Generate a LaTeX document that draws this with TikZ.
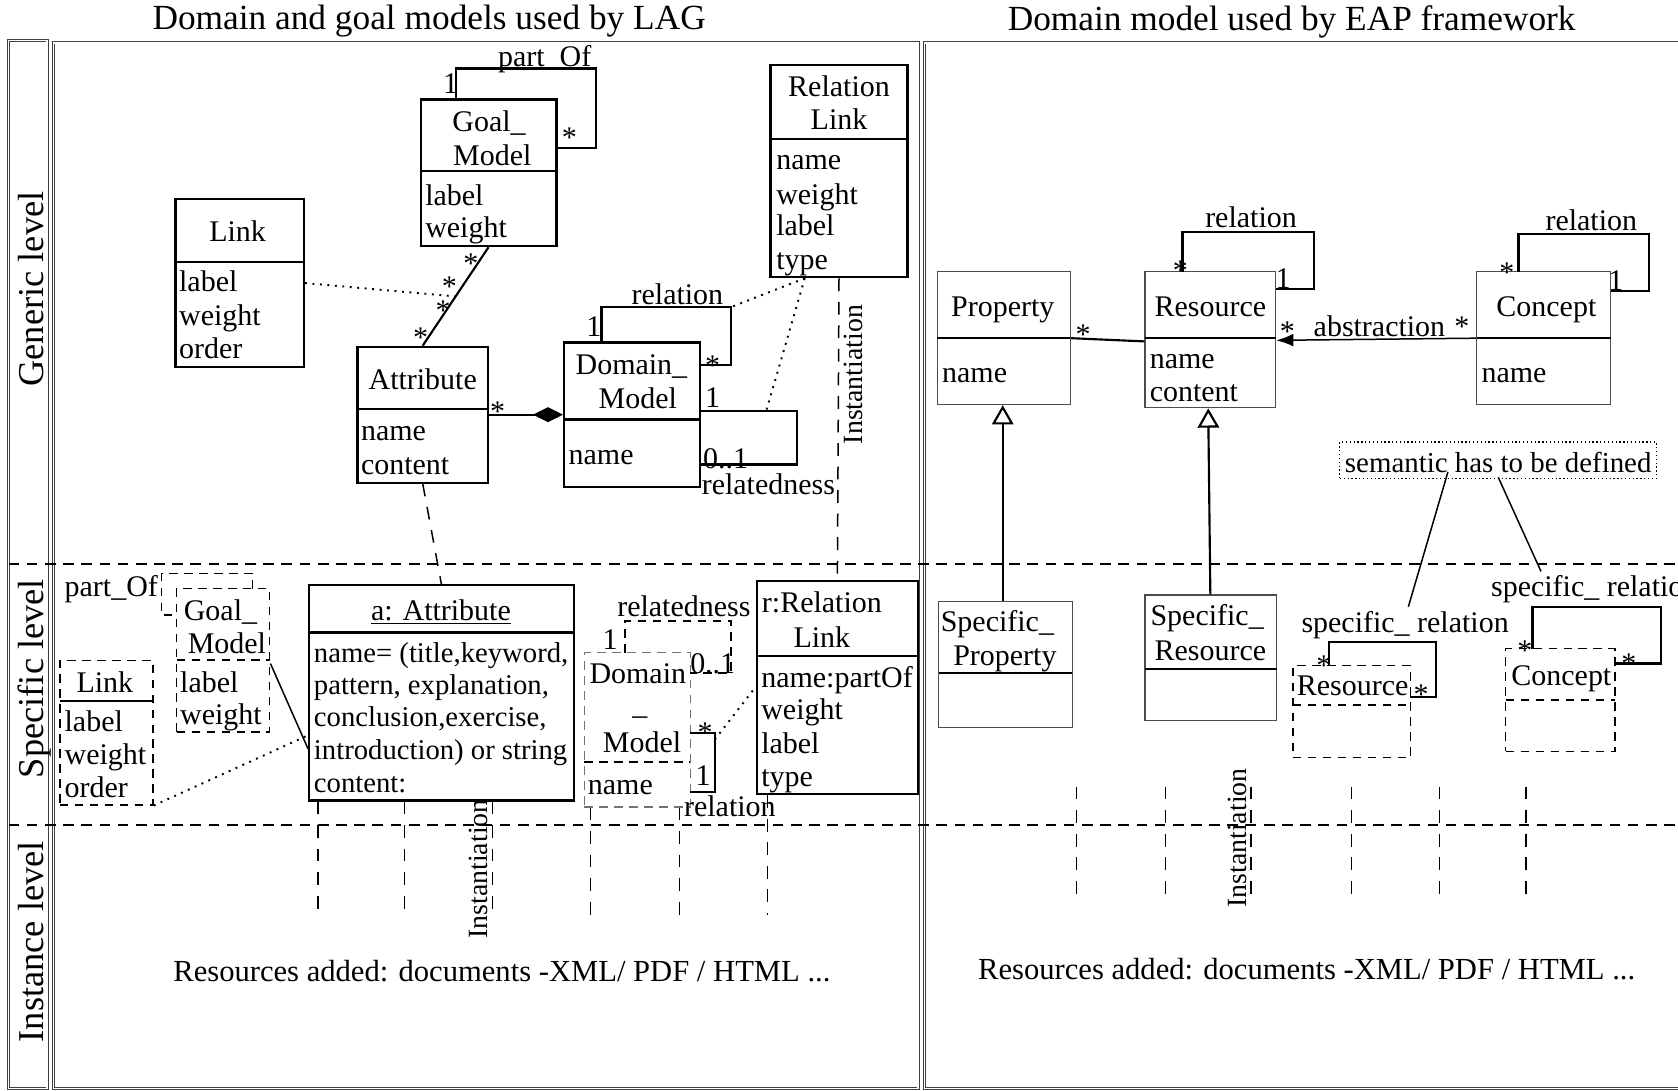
\documentclass[tikz,border=0pt]{standalone}
\usepackage{fontspec}
\setmainfont{Liberation Serif}
\usetikzlibrary{fit,arrows.meta}
\begin{document}
\begin{tikzpicture}[x=0.5pt,y=-0.5pt,
 txt/.style={font=\fontsize{14}{16}\selectfont, inner sep=0pt, text height=1.5ex, text depth=.25ex, yshift=-2pt},
 sm/.style={font=\fontsize{13.4}{16}\selectfont, inner sep=0pt, text height=1.5ex, text depth=.25ex, anchor=west, yshift=-2pt},
 lt/.style={txt, anchor=west},
 st/.style={txt, yshift=-1.5pt},
 box/.style={draw, line width=1pt, inner sep=0pt, fit={#1}},
 rbox/.style={draw=black!70, line width=0.6pt, inner sep=0pt, fit={#1}},
 dbox/.style={draw, line width=0.7pt, dash pattern=on 4pt off 3pt, inner sep=0pt, fit={#1}},
 gbox/.style={draw=black!55, line width=0.6pt, dash pattern=on 4pt off 3pt, inner sep=0pt, fit={#1}},
 nbox/.style={draw, line width=0.5pt, dash pattern=on 0.6pt off 1.2pt, inner sep=0pt, fit={#1}},
 frm/.style={draw=black!75, double, double distance=0.7pt, line width=0.35pt, inner sep=0pt, fit={#1}},
 cl/.style={line width=1pt},
 tn/.style={line width=0.7pt},
 dt/.style={line width=0.9pt, dash pattern=on 0.9pt off 2.6pt},
 ds/.style={line width=0.7pt, dash pattern=on 6pt off 5pt},
 dd/.style={line width=0.8pt, dash pattern=on 4pt off 3pt},
 lv/.style={line width=1pt, dash pattern=on 5pt off 3.5pt},
 ttl/.style={font=\fontsize{16.5}{18}\selectfont, inner sep=0pt},
 lvl/.style={font=\fontsize{17}{19}\selectfont, inner sep=0pt, rotate=90, anchor=base},
 ins/.style={font=\fontsize{13}{15}\selectfont, inner sep=0pt, rotate=90},
 res/.style={font=\fontsize{14.3}{17}\selectfont, inner sep=0pt},
]
\fill[white] (0,0) rectangle (1568,1019);
\useasboundingbox (0,0) rectangle (1568,1019);

% frames
\node[frm={(8,38) (44,1017)}] (strip) {};
\node[frm={(50,40) (858,1017)}] (lp) {};
\node[frm={(864,40) (1574,1017)}] (rp) {};

% level separators
\draw[lv] (8,527) -- (1568,527);
\draw[lv] (8,771) -- (1568,771);

% titles and level labels
\node[ttl] (t1) at (401,20) {Domain and goal models used by LAG};
\node[ttl] (t2) at (1207,20) {Domain model used by EAP framework};
\node[lvl] (lg) at (41,270) {Generic level};
\node[lvl] (ls) at (41,634) {Specific level};
\node[lvl] (li) at (41,880) {Instance level};

% ================= LEFT, generic level
% Goal_Model
\node[box={(393,93) (520,230)}] (gm) {};
\draw[cl] (393,160) -- (520,160);
\node[txt] (gm1) at (457,113) {Goal\_};
\node[txt] (gm2) at (460,145) {Model};
\node[lt] (gm3) at (397,182) {label};
\node[lt] (gm4) at (397,212) {weight};
\coordinate (gmt) at (426,93);
\coordinate (gmr) at (520,138);
\draw[cl] (gmt) -- (426,64) -- (557,64) -- (557,138) -- (gmr);
\node[txt] (gmp) at (509,52) {part\_Of};
\node[txt] (gmo) at (421,78) {1};
\node[st] (gms) at (532,125) {*};

% Link
\node[box={(164,186) (284,343)}] (lk) {};
\draw[cl] (164,245) -- (284,245);
\node[txt] (lk1) at (222,216) {Link};
\node[lt] (lk2) at (167,263) {label};
\node[lt] (lk3) at (167,294) {weight};
\node[lt] (lk4) at (167,325) {order};

% Attribute
\node[box={(334,324) (456,451)}] (at) {};
\draw[cl] (334,382) -- (456,382);
\node[txt] (at1) at (395,354) {Attribute};
\node[lt] (at2) at (337,402) {name};
\node[lt] (at3) at (337,434) {content};

\draw[cl] (gm.south) -- coordinate[pos=0.5] (gmam) (at.north);
\draw[dt] (lk.east) -- (gmam);
\node[st] (s1) at (440,243) {*};
\node[st] (s2) at (393,312) {*};
\node[st] (s3) at (420,264) {*};
\node[st] (s4) at (414,287) {*};

% Domain_Model
\node[box={(527,320) (654,455)}] (dm) {};
\draw[cl] (527,392) -- (654,392);
\node[txt] (dm1) at (590,340) {Domain\_};
\node[txt] (dm2) at (596,372) {Model};
\node[lt] (dm3) at (531,424) {name};
\coordinate (dmrc) at (683,287);
\draw[cl] (562,320) -- (562,287) -- (dmrc) -- (683,341) -- (654,341);
\node[txt] (dmr) at (633,275) {relation};
\node[txt] (dmr1) at (555,305) {1};
\node[st] (dmr2) at (666,338) {*};
\coordinate (dmrt) at (716,384);
\draw[cl] (654,384) -- (dmrt) -- (745,384) -- (745,434) -- (654,434);
\node[txt] (dmq1) at (666,371) {1};
\node[txt] (dmq2) at (678,428) {0..1};
\node[txt] (dmq) at (718,452) {relatedness};

\draw[cl, -{Diamond[length=14pt,width=7pt,fill=black]}] (at.east) -- (dm.west);
\node[st] (s5) at (465,381) {*};

% Relation Link
\node[box={(720,61) (848,259)}] (rl) {};
\draw[cl] (720,130) -- (848,130);
\node[txt] (rl1) at (784,80) {Relation};
\node[txt] (rl2) at (784,111) {Link};
\node[lt] (rl3) at (725,149) {name};
\node[lt] (rl4) at (725,181) {weight};
\node[lt] (rl5) at (725,210) {label};
\node[lt] (rl6) at (725,242) {type};
\coordinate (rlb) at (752,260);
\draw[dt] (rlb) -- (dmrc);
\draw[dt] (rlb) -- (dmrt);
\node[ins] (in1) at (797,350) {Instantiation};

% ================= LEFT, specific level
\node[box={(289,547) (536,748)}] (aa) {};
\draw[cl] (289,591) -- (536,591);
\node[txt] (aa1) at (412,570) {\underline{a: Attribute}};
\node[sm] (aa2) at (293,609) {name= (title,keyword,};
\node[sm] (aa3) at (293,639) {pattern, explanation,};
\node[sm] (aa4) at (293,669) {conclusion,exercise,};
\node[sm] (aa5) at (293,700) {introduction) or string};
\node[sm] (aa6) at (293,731) {content:};

% Goal_Model (dashed)
\node[dbox={(165,550) (252,684)}] (gd) {};
\draw[dd] (165,617) -- (252,617);
\node[txt] (gd1) at (206,570) {Goal\_};
\node[txt] (gd2) at (212,601) {Model};
\node[lt] (gd3) at (168,637) {label};
\node[lt] (gd4) at (168,667) {weight};
\coordinate (gdt) at (236,550);
\coordinate (gdl) at (165,575);
\draw[dd] (gdt) -- (236,536) -- (151,536) -- (151,575) -- (gdl);
\node[txt] (gdp) at (104,548) {part\_Of};

% Link (dashed)
\node[dbox={(56,617) (143,752)}] (ld) {};
\draw[cl] (56,655) -- (143,655);
\node[txt] (ld1) at (98,637) {Link};
\node[lt] (ld2) at (60,674) {label};
\node[lt] (ld3) at (60,705) {weight};
\node[lt] (ld4) at (60,735) {order};

\draw[tn] (gd.east |- 0,620) -- (aa.west |- 0,700);
\draw[dt] (ld.south east) -- (aa.west |- 0,687);

% Domain_Model (dashed, grey)
\node[gbox={(546,610) (645,754)}] (dmd) {};
\draw[dd] (546,712) -- (645,712);
\node[txt] (dmd1) at (596,629) {Domain};
\node[txt] (dmd2) at (598,658) {\_};
\node[txt] (dmd3) at (600,693) {Model};
\node[lt] (dmd4) at (549,733) {name};
\draw[dd] (584,610) -- (584,580) -- (683,580) -- (683,629) -- (645,629);
\node[txt] (dmdq) at (639,566) {relatedness};
\node[txt] (dmdq1) at (570,597) {1};
\node[txt] (dmdq2) at (666,620) {0..1};
\coordinate (dmdr) at (668,691);
\draw[cl] (645,685) -- (668,685) -- (dmdr) -- (668,740) -- (645,740);
\node[st] (dmdr1) at (659,681) {*};
\node[txt] (dmdr2) at (657,724) {1};
\node[txt] (dmdr3) at (682,753) {relation};

% r:Relation Link
\node[box={(707,543) (858,742)}] (rr) {};
\draw[cl] (707,613) -- (858,613);
\node[txt] (rr1) at (768,563) {r:Relation};
\node[txt] (rr2) at (768,595) {Link};
\node[lt] (rr3) at (711,633) {name:partOf};
\node[lt] (rr4) at (711,663) {weight};
\node[lt] (rr5) at (711,694) {label};
\node[lt] (rr6) at (711,725) {type};
\draw[dt] (dmdr) -- (rr.west |- 0,642);

% instantiation links (left)
\draw[ds] (rl.south) -- (rr.north);
\draw[ds] (at.south) -- (aa.north);
\foreach \x in {297,378,460} \draw[ds] (aa.south -| \x,0) -- (\x,855);
\foreach \x in {552,635} \draw[ds] (dmd.south -| \x,0) -- (\x,855);
\draw[ds] (rr.south -| 717,0) -- (717,855);
\node[ins] (in2) at (447,812) {Instantiation};
\node[res] (re1) at (469,907) {Resources added: documents -XML/ PDF / HTML ...};

% ================= RIGHT, generic level
\node[rbox={(876,254) (1000,378)}] (pr) {};
\draw[cl] (876,316) -- (1000,316);
\node[txt] (pr1) at (937,286) {Property};
\node[lt] (pr2) at (880,348) {name};

\node[rbox={(1070,254) (1192,381)}] (rs) {};
\draw[cl] (1070,316) -- (1192,316);
\node[txt] (rs1) at (1131,286) {Resource};
\node[lt] (rs2) at (1074,335) {name};
\node[lt] (rs3) at (1074,365) {content};
\draw[cl] (1105,254) -- (1105,217) -- (1228,217) -- (1228,270) -- (1192,270);
\node[txt] (rsr) at (1169,203) {relation};
\node[st] (rsr1) at (1103,249) {*};
\node[txt] (rsr2) at (1199,260) {1};

\node[rbox={(1380,254) (1505,378)}] (cp) {};
\draw[cl] (1380,316) -- (1505,316);
\node[txt] (cp1) at (1445,286) {Concept};
\node[lt] (cp2) at (1384,348) {name};
\draw[cl] (1419,254) -- (1419,219) -- (1541,219) -- (1541,272) -- (1505,272);
\node[txt] (cpr) at (1487,206) {relation};
\node[st] (cpr1) at (1408,251) {*};
\node[txt] (cpr2) at (1510,262) {1};

\draw[cl] (pr.east |- 0,316) -- (rs.west |- 0,319);
\node[st] (s6) at (1012,309) {*};
\draw[tn, -{Latex[length=8pt,width=6pt]}] (cp.west |- 0,316) -- (rs.east |- 0,318);
\node[txt] (ab) at (1289,305) {abstraction};
\node[st] (s7) at (1203,306) {*};
\node[st] (s8) at (1366,302) {*};

% ================= RIGHT, specific level
\node[rbox={(877,562) (1002,680)}] (sp) {};
\draw[cl] (877,629) -- (1002,629);
\node[txt] (sp1) at (932,580) {Specific\_};
\node[txt] (sp2) at (939,612) {Property};

\node[rbox={(1070,556) (1193,673)}] (sr) {};
\draw[cl] (1070,625) -- (1193,625);
\node[txt] (sr1) at (1128,575) {Specific\_};
\node[txt] (sr2) at (1131,607) {Resource};

\draw[cl, -{Triangle[open,length=9pt,width=10pt]}] (sp.north -| 937,0) -- (pr.south -| 937,0);
\draw[cl, -{Triangle[open,length=9pt,width=10pt]}] (sr.north -| 1131,0) -- (rs.south -| 1129,0);

\node[nbox={(1252,413) (1548,447)}] (nt) {};
\node[font=\fontsize{13.5}{15}\selectfont, inner sep=0pt] (ntt) at (1400,432) {semantic has to be defined};

\node[dbox={(1208,622) (1318,708)}] (rd) {};
\draw[dd] (1208,659) -- (1318,659);
\node[txt] (rd1) at (1264,640) {Resource};
\draw[cl] (1242,622) -- (1242,600) -- (1342,600) -- (1342,651) -- (1318,651);
\node[st] (rd2) at (1237,618) {*};
\node[st] (rd3) at (1328,646) {*};
\node[txt] (rd4) at (1313,581) {specific\_ relation};

\node[dbox={(1407,606) (1509,702)}] (cd) {};
\draw[dd] (1407,654) -- (1509,654);
\node[txt] (cd1) at (1459,631) {Concept};
\draw[cl] (1432,606) -- (1432,567) -- (1552,567) -- (1552,620) -- (1509,620);
\node[st] (cd2) at (1425,604) {*};
\node[st] (cd3) at (1522,617) {*};
\node[txt, anchor=west] (cd4) at (1393,548) {specific\_ relation};

\coordinate (nl1) at (1353,441);
\coordinate (nl2) at (1400,446);
\draw[tn] (nl1) -- (1316,567);
\draw[tn] (nl2) -- (1440,534);

% instance level (right)
\foreach \x in {1006,1089,1169,1263,1345,1426} \draw[ds] (\x,735) -- (\x,835);
\node[ins] (in3) at (1156,783) {Instantiation};
\node[res] (re2) at (1221,906) {Resources added: documents -XML/ PDF / HTML ...};
\end{tikzpicture}
\end{document}
